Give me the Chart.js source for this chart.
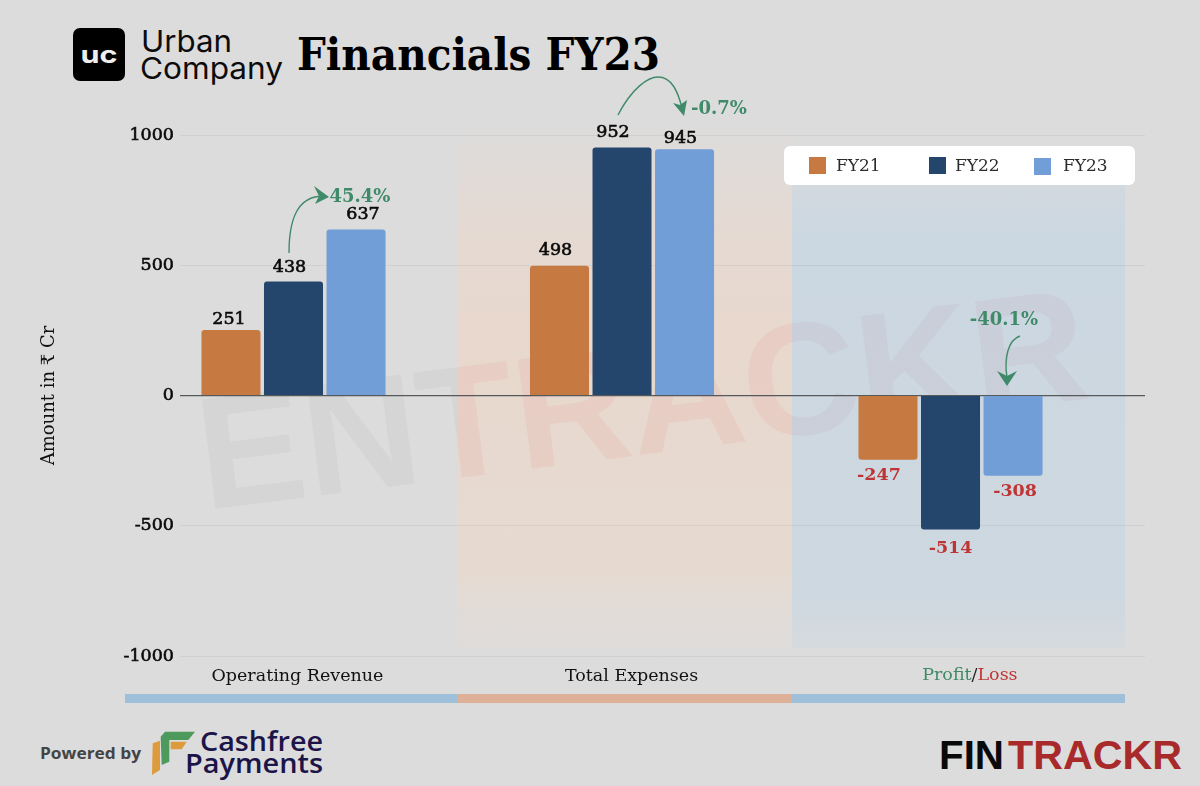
<!DOCTYPE html>
<html><head><meta charset="utf-8">
<script src="https://cdn.jsdelivr.net/npm/chart.js@4"></script>
<style>
html,body{margin:0;padding:0;width:1200px;height:786px;overflow:hidden;background:#dcdcdc}
.bg,#wrap,svg.layer{position:absolute;left:0;top:0;width:1200px;height:786px}
#wrap{z-index:3}
svg.layer.back{z-index:1}
svg.layer.front{z-index:2}
</style></head><body>
<svg class="layer back" viewBox="0 0 1200 786">
<defs>
<linearGradient id="og" x1="0" y1="0" x2="0" y2="1"><stop offset="0" stop-color="#e8d8ce" stop-opacity="0"/><stop offset=".2" stop-color="#e8d8ce" stop-opacity=".7"/><stop offset=".4" stop-color="#e8d8ce"/><stop offset=".85" stop-color="#e6dad0"/><stop offset="1" stop-color="#e2dcd8" stop-opacity=".35"/></linearGradient>
<linearGradient id="bg" x1="0" y1="0" x2="0" y2="1"><stop offset="0" stop-color="#cdd8e1" stop-opacity=".5"/><stop offset=".15" stop-color="#cbd7e1"/><stop offset=".9" stop-color="#ced8e0"/><stop offset="1" stop-color="#d2dae0" stop-opacity=".6"/></linearGradient>
<clipPath id="cl"><rect x="0" y="0" width="458" height="786"/></clipPath>
<clipPath id="cm"><rect x="458" y="0" width="334" height="786"/></clipPath>
<clipPath id="cr"><rect x="792" y="0" width="408" height="786"/></clipPath>
</defs>
<rect x="458" y="120" width="334" height="530" fill="url(#og)"/>
<rect x="792" y="165" width="333" height="483" fill="url(#bg)"/>
<g font-family="Liberation Sans" font-weight="bold" font-size="160">
<g clip-path="url(#cl)"><text transform="rotate(-7.2 205 510)" x="205" y="510" fill="#000" fill-opacity=".03" textLength="895">ENTRACKR</text></g>
<g clip-path="url(#cm)"><text transform="rotate(-7.2 205 510)" x="205" y="510" fill="#ea9c94" fill-opacity=".17" textLength="895">ENTRACKR</text></g>
<g clip-path="url(#cr)"><text transform="rotate(-7.2 205 510)" x="205" y="510" fill="#c4a8bc" fill-opacity=".18" textLength="895">ENTRACKR</text></g>
</g>
<rect x="125" y="694" width="333" height="9" fill="#9fc0da"/>
<rect x="458" y="694" width="334" height="9" fill="#deb098"/>
<rect x="792" y="694" width="333" height="9" fill="#9fc0da"/>
</svg>
<svg class="layer front" viewBox="0 0 1200 786">
<rect x="73" y="28" width="52" height="53" rx="7" fill="#000"/>
<text x="99" y="63" text-anchor="middle" font-family="Inter" font-weight="bold" font-size="24" fill="#eee" textLength="37" lengthAdjust="spacingAndGlyphs">uc</text>
<text x="141" y="52" font-family="Inter" font-size="30" fill="#0c0c0c" textLength="91" lengthAdjust="spacingAndGlyphs">Urban</text>
<text x="140" y="79" font-family="Inter" font-size="30" fill="#0c0c0c" textLength="143" lengthAdjust="spacingAndGlyphs">Company</text>
<text x="297" y="70" font-family="DejaVu Serif" font-weight="bold" font-size="45" fill="#000" textLength="363" lengthAdjust="spacingAndGlyphs">Financials FY23</text>
<text x="40" y="759" font-family="Open Sans" font-weight="bold" font-size="16" fill="#444" textLength="101" lengthAdjust="spacingAndGlyphs">Powered by</text>
<polygon points="152.7,743.3 160,740.7 160,770 152,775" fill="#dc9c3e"/>
<polygon points="160.7,736.7 165,731.7 195,731.7 188.3,740 169.3,740 169.3,761.7 161.7,765" fill="#4d9a5c"/>
<polygon points="170.7,741.7 186.7,741.7 181.7,749.3 170.7,749.3" fill="#dc9c3e"/>
<text x="200" y="751" font-family="Open Sans" font-weight="600" font-size="27" fill="#1b1449" textLength="123" lengthAdjust="spacingAndGlyphs">Cashfree</text>
<text x="185" y="773" font-family="Open Sans" font-weight="600" font-size="27" fill="#1b1449" textLength="138" lengthAdjust="spacingAndGlyphs">Payments</text>
<text x="939" y="769" font-family="Liberation Sans" font-weight="bold" font-size="40" fill="#0a0a0a" textLength="65" lengthAdjust="spacingAndGlyphs">FIN</text>
<text x="1008" y="769" font-family="Liberation Sans" font-weight="bold" font-size="40" fill="#a82a2a" textLength="174" lengthAdjust="spacingAndGlyphs">TRACKR</text>
</svg>
<div id="wrap"><canvas id="c" width="1200" height="786"></canvas></div>
<script>
const categories = ['Operating Revenue', 'Total Expenses', 'Profit/Loss'];
const seriesNames = ['FY21', 'FY22', 'FY23'];
const fy21 = [251, 498, -247];
const fy22 = [438, 952, -514];
const fy23 = [637, 945, -308];
const yTicks = [-1000, -500, 0, 500, 1000];
const growthLabels = ['45.4%', '-0.7%', '-40.1%'];

const COLORS = ['#c67a42', '#24466d', '#719ed7'];
const GREEN = '#3f8a68', RED = '#bf3535';
const SERIF = '"DejaVu Serif"';
const toPoints = a => a.map((y, i) => ({x: i, y}));

// pixel nudges for value labels, [series][category] -> [dx, dy]
const nudges = [
  [[-2,-11],[-4,-15.5],[-9,15.5]],
  [[-4,-13.5],[-9,-15],[0,19]],
  [[7,-15.5],[-4,-11],[2,16]]
];
const tickShift = [0.012, 0.029, 0.059];

const overlay = {
  id: 'overlay',
  afterDatasetsDraw(chart) {
    const ctx = chart.ctx;
    ctx.save();
    // value labels
    ctx.textAlign = 'center'; ctx.textBaseline = 'middle';
    chart.data.datasets.forEach((ds, s) => {
      chart.getDatasetMeta(s).data.forEach((el, i) => {
        const v = ds.data[i].y;
        const x = el.x + nudges[s][i][0], y = el.y + nudges[s][i][1];
        if (v < 0) {
          ctx.font = 'bold 17.5px ' + SERIF;
          ctx.fillStyle = RED;
          ctx.fillText(String(v), x, y);
        } else {
          ctx.font = '17.5px ' + SERIF;
          ctx.fillStyle = '#0a0a0a'; ctx.strokeStyle = '#0a0a0a'; ctx.lineWidth = 0.6;
          ctx.fillText(String(v), x, y);
          ctx.strokeText(String(v), x, y);
        }
      });
    });
    // growth annotations
    ctx.font = 'bold 18px ' + SERIF;
    ctx.fillStyle = GREEN; ctx.strokeStyle = GREEN; ctx.lineWidth = 1.4;
    ctx.fillText(growthLabels[0], 360, 197);
    ctx.fillText(growthLabels[1], 719, 109);
    ctx.fillText(growthLabels[2], 1004, 320);
    const curve = f => { ctx.beginPath(); f(); ctx.stroke(); };
    const head = p => { ctx.beginPath(); ctx.moveTo(p[0],p[1]); for (let k=2;k<p.length;k+=2) ctx.lineTo(p[k],p[k+1]); ctx.closePath(); ctx.fill(); };
    curve(() => { ctx.moveTo(289,253); ctx.bezierCurveTo(289,218,298,197,322,196); });
    head([329,197, 314,186, 319,196, 315,204]);
    curve(() => { ctx.moveTo(618,115); ctx.bezierCurveTo(632,88,648,77,658,77); ctx.bezierCurveTo(672,77,678,92,682,108); });
    head([684,116, 673,103, 680,105, 687,100]);
    curve(() => { ctx.moveTo(1020,336); ctx.bezierCurveTo(1008,340,1004,358,1007,378); });
    head([1007,386, 997,371, 1007,376, 1017,371]);
    // two-tone category label
    const xs = chart.scales.x, t = xs.ticks[2];
    const cx = xs.getPixelForValue(t.value), cy = 675;
    const [a, b] = categories[2].split('/');
    ctx.font = '17.5px ' + SERIF; ctx.textAlign = 'left';
    const wa = ctx.measureText(a).width, ws = ctx.measureText('/').width, wb = ctx.measureText(b).width;
    let x = cx - (wa + ws + wb) / 2;
    ctx.fillStyle = GREEN; ctx.fillText(a, x, cy); x += wa;
    ctx.fillStyle = '#222'; ctx.fillText('/', x, cy); x += ws;
    ctx.fillStyle = RED; ctx.fillText(b, x, cy);
    // legend
    ctx.fillStyle = '#fff';
    ctx.beginPath(); ctx.roundRect(784, 146, 351, 39, 6); ctx.fill();
    const lx = [809, 929, 1034], tx = [836, 955, 1063], ly = [157, 157, 158];
    ctx.font = '17px ' + SERIF;
    chart.data.datasets.forEach((ds, s) => {
      ctx.fillStyle = ds.backgroundColor;
      ctx.fillRect(lx[s], ly[s], 17, 17);
      ctx.fillStyle = '#2b2b2b';
      ctx.fillText(ds.label, tx[s], 167);
    });
    ctx.restore();
  }
};

new Chart(document.getElementById('c'), {
  type: 'bar',
  plugins: [overlay],
  data: {
    datasets: seriesNames.map((n, i) => ({
      label: n,
      data: toPoints([fy21, fy22, fy23][i]),
      backgroundColor: COLORS[i],
      borderRadius: 3,
      categoryPercentage: 0.571,
      barPercentage: 0.944
    }))
  },
  options: {
    responsive: false,
    animation: false,
    devicePixelRatio: 1,
    layout: {padding: {top: 135, right: 55, left: 0, bottom: 0}},
    plugins: {legend: {display: false}, tooltip: {enabled: false}, title: {display: false}},
    scales: {
      x: {
        type: 'linear',
        offset: false,
        min: -0.3455,
        max: 2.592,
        grid: {display: false, offset: false},
        border: {display: false},
        afterBuildTicks: s => { s.ticks = categories.map((c, i) => ({value: i + tickShift[i]})); },
        afterFit: s => { s.height = 130; },
        ticks: {
          autoSkip: false, maxRotation: 0, minRotation: 0, padding: 2,
          color: c => c.index === 2 ? 'rgba(0,0,0,0)' : '#111',
          font: {family: SERIF, size: 17.5},
          callback: (v, i) => categories[i]
        }
      },
      y: {
        min: -1000, max: 1000,
        afterFit: s => { s.width = 180; },
        afterBuildTicks: s => { s.ticks = yTicks.map(v => ({value: v})); },
        grid: {
          drawTicks: false,
          lineWidth: c => c.tick && c.tick.value === 0 ? 1.2 : 1,
          color: c => c.tick && c.tick.value === 0 ? '#55595c' : 'rgba(0,0,0,0.05)'
        },
        border: {display: false},
        title: {display: true, text: 'Amount in ₹ Cr', color: '#111', font: {family: SERIF, size: 18}, padding: {top: 39, bottom: 0}},
        ticks: {
          padding: 6, color: '#0a0a0a',
          font: {family: SERIF, size: 17.5},
          textStrokeColor: '#0a0a0a', textStrokeWidth: 0.6,
          callback: v => String(v)
        }
      }
    }
  }
});
</script>
</body></html>
